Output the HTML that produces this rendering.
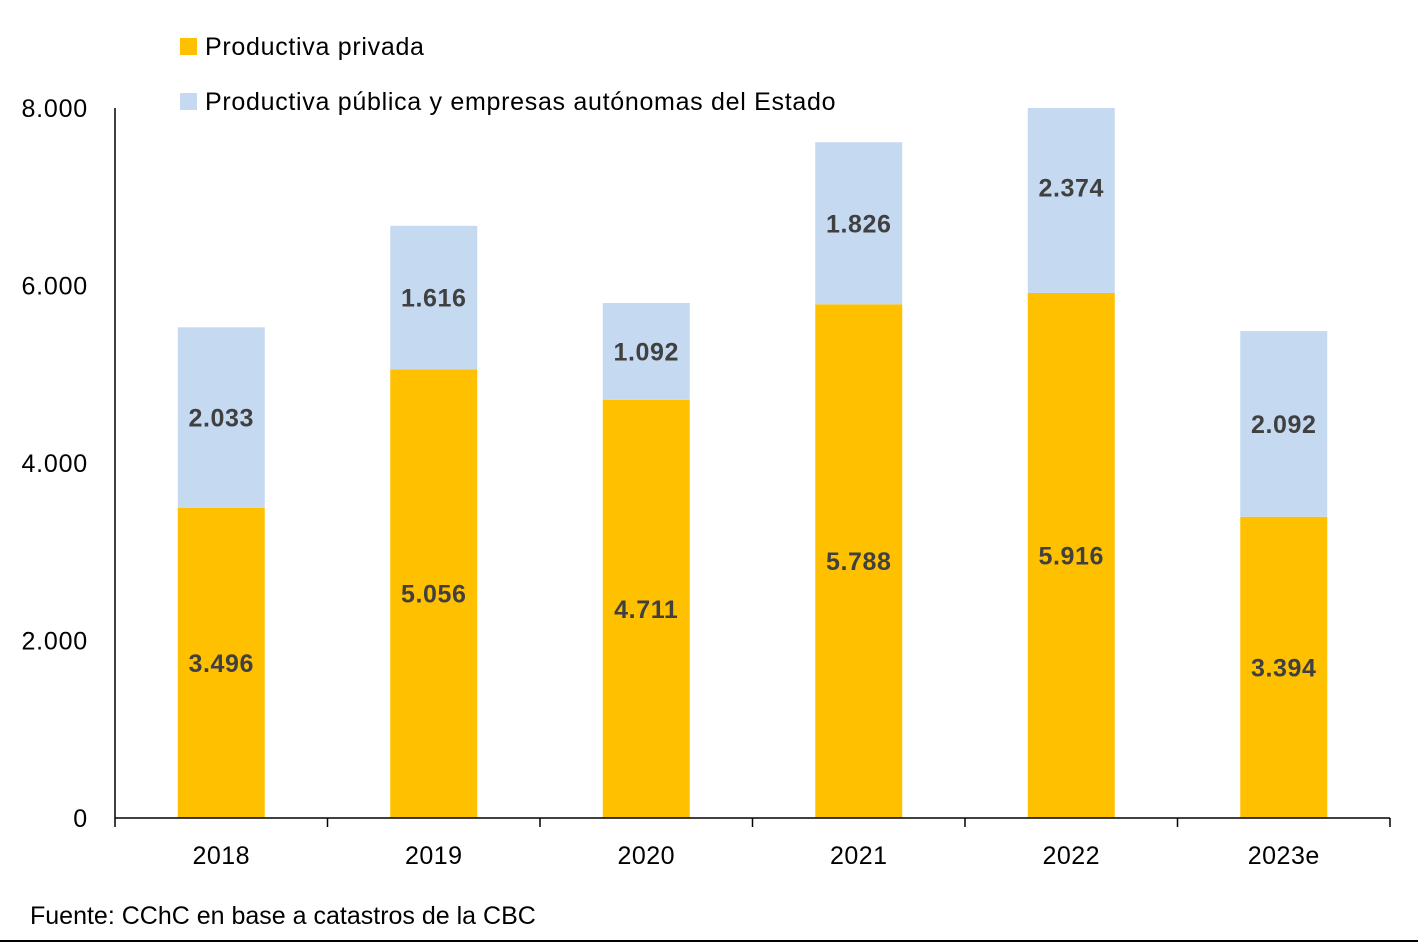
<!DOCTYPE html>
<html><head><meta charset="utf-8"><style>
html,body{margin:0;padding:0;background:#fff;}
svg{display:block;font-family:"Liberation Sans",Arial,sans-serif;}
</style></head><body>
<svg id="chart" width="1418" height="948" viewBox="0 0 1418 948">
<defs><clipPath id="plotclip"><rect x="100" y="108" width="1300" height="711"/></clipPath></defs>
<g>
 <rect x="180" y="38" width="17" height="17" fill="#FFC000"/>
 <text x="205" y="55" font-size="25" letter-spacing="0.7" fill="#000">Productiva privada</text>
 <rect x="180" y="93" width="17" height="17" fill="#C5D9F1"/>
 <text x="205" y="110" font-size="25" letter-spacing="0.7" fill="#000">Productiva pública y empresas autónomas del Estado</text>
</g>
<g id="yaxis"></g>
<g id="bars" clip-path="url(#plotclip)"></g>
<g id="labels"></g>
<g id="xaxis"></g>
<text x="30" y="924" font-size="25" fill="#000">Fuente: CChC en base a catastros de la CBC</text>
<line x1="0" y1="941" x2="1418" y2="941" stroke="#000" stroke-width="2"/>
</svg>
<script>
const categories = ["2018","2019","2020","2021","2022","2023e"];
const privada = [3496,5056,4711,5788,5916,3394];
const publica = [2033,1616,1092,1826,2374,2092];
const yTicks = [0,2000,4000,6000,8000];
const yTickLabels = ["0","2.000","4.000","6.000","8.000"];
const fmt = v => v.toString().replace(/\B(?=(\d{3})+(?!\d))/g,".");
const NS="http://www.w3.org/2000/svg";
const X0=115,X1=1390,Y0=818,Y1=108,YMAX=8000;
const y = v => Y0-(v/YMAX)*(Y0-Y1);
const band=(X1-X0)/categories.length;
const xc = i => X0+band*(i+0.5);
const BW=87;
function mk(tag,attrs,parent){const e=document.createElementNS(NS,tag);for(const k in attrs)e.setAttribute(k,attrs[k]);parent.appendChild(e);return e;}
const yax=document.getElementById('yaxis'),bars=document.getElementById('bars'),labs=document.getElementById('labels'),xax=document.getElementById('xaxis');
let l=mk('line',{x1:X0,y1:Y1,x2:X0,y2:Y0,stroke:'#000','stroke-width':1.5},yax);


yTicks.forEach((t,i)=>{const e=mk('text',{x:88,y:y(t)+9,'font-size':25,'letter-spacing':0.8,'text-anchor':'end',fill:'#000'},yax);e.textContent=yTickLabels[i];

});
categories.forEach((c,i)=>{
 const a=privada[i],b=publica[i];
 let r=mk('rect',{x:xc(i)-BW/2,y:y(a),width:BW,height:Y0-y(a),fill:'#FFC000'},bars);
 
 
 let r2=mk('rect',{x:xc(i)-BW/2,y:y(a+b),width:BW,height:y(a)-y(a+b),fill:'#C5D9F1'},bars);
 
 
 let t=mk('text',{x:xc(i),y:y(a/2)+9,'font-size':25,'letter-spacing':0.6,'font-weight':'bold','text-anchor':'middle',fill:'#404040'},labs);t.textContent=fmt(a);
 
 
 let t2=mk('text',{x:xc(i),y:y(a+b/2)+9,'font-size':25,'letter-spacing':0.6,'font-weight':'bold','text-anchor':'middle',fill:'#404040'},labs);t2.textContent=fmt(b);
 
 
 let xl=mk('text',{x:xc(i),y:864,'font-size':25,'letter-spacing':0.5,'text-anchor':'middle',fill:'#000'},xax);xl.textContent=c;
 
 
});
let xl=mk('line',{x1:X0,y1:Y0,x2:X1,y2:Y0,stroke:'#000','stroke-width':1.5},xax);


for(let i=0;i<=categories.length;i++){let tk=mk('line',{x1:X0+band*i,y1:Y0,x2:X0+band*i,y2:Y0+9,stroke:'#000','stroke-width':1.5},xax);

}
</script>
</body></html>
